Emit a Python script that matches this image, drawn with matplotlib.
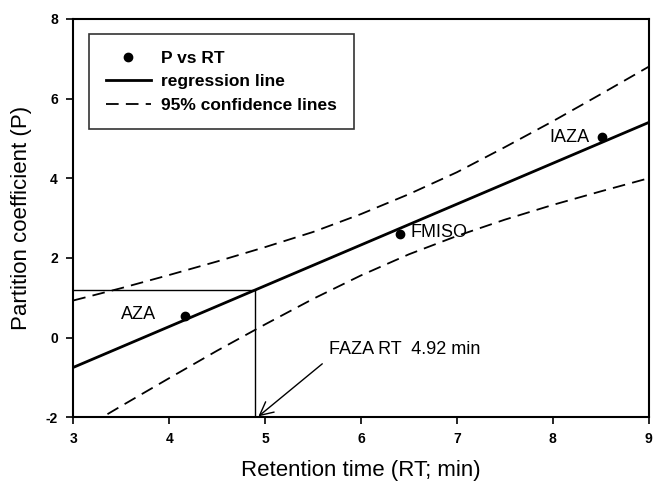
import numpy as np
import matplotlib
matplotlib.use("Agg")
import matplotlib.pyplot as plt

plt.rcParams['font.family'] = ['Liberation Sans', 'DejaVu Sans']
plt.rcParams['axes.unicode_minus'] = False

# measured compounds: retention time vs partition coefficient
compounds = ["AZA", "FMISO", "IAZA"]
rt = [4.16, 6.41, 8.51]
p_coef = [0.53, 2.61, 5.04]

# regression line end points
reg_x = [3.0, 9.0]
reg_y = [-0.75, 5.40]

# 95% confidence lines
ci_x = [3.0, 3.5, 4.0, 4.5, 5.0, 5.5, 6.0, 6.5, 7.0, 7.5, 8.0, 8.5, 9.0]
ci_upper = [0.93, 1.24, 1.57, 1.91, 2.27, 2.65, 3.10, 3.60, 4.15, 4.78, 5.43, 6.11, 6.80]
ci_lower = [-2.43, -1.72, -1.02, -0.33, 0.33, 0.97, 1.56, 2.09, 2.55, 2.96, 3.33, 3.67, 4.00]

# FAZA read-off
faza_rt = 4.9
faza_p = 1.19

fig = plt.figure(figsize=(6.54, 4.84), dpi=100)
ax = fig.add_axes([0.112, 0.138, 0.880, 0.823])

ax.plot(rt, p_coef, 'o', color='black', ms=6, label='P vs RT', zorder=5)
ax.plot(reg_x, reg_y, '-', color='black', lw=2.0, label='regression line')
ax.plot(ci_x, ci_upper, '--', color='black', lw=1.3, dashes=(7, 4),
        label='95% confidence lines')
ax.plot(ci_x, ci_lower, '--', color='black', lw=1.3, dashes=(7, 4))

# guide lines for FAZA
ax.plot([3.0, faza_rt], [faza_p, faza_p], '-', color='black', lw=1.0)
ax.plot([faza_rt, faza_rt], [faza_p, -2.0], '-', color='black', lw=1.0)

ax.text(3.5, 0.58, "AZA", fontsize=13, va='center', ha='left')
ax.text(6.52, 2.64, "FMISO", fontsize=13, va='center', ha='left')
ax.text(8.38, 5.03, "IAZA", fontsize=13, va='center', ha='right')
ax.annotate("FAZA RT  4.92 min", xy=(faza_rt + 0.03, -1.98), xytext=(5.67, -0.3),
            fontsize=13, va='center', ha='left',
            arrowprops=dict(arrowstyle='->', color='black', lw=1.0,
                            mutation_scale=24, shrinkA=4, shrinkB=0,
                            relpos=(0.0, 0.0)))

ax.set_xlim(3, 9)
ax.set_ylim(-2, 8)
ax.set_xticks(range(3, 10))
ax.set_yticks(range(-2, 9, 2))
ax.tick_params(direction='out', length=5, width=1.2, labelsize=10, pad=6)
for lab in ax.get_xticklabels() + ax.get_yticklabels():
    lab.set_fontweight('bold')
for sp in ax.spines.values():
    sp.set_linewidth(1.5)

ax.set_xlabel("Retention time (RT; min)", fontsize=16, labelpad=10)
ax.set_ylabel("Partition coefficient (P)", fontsize=16, labelpad=10)

leg = ax.legend(loc='upper left', bbox_to_anchor=(0.028, 0.962),
                prop={'weight': 'bold', 'size': 12.5},
                frameon=True, fancybox=False, edgecolor='black',
                borderpad=0.95, handlelength=2.6, handletextpad=0.6,
                labelspacing=0.48, borderaxespad=0)
leg.get_frame().set_linewidth(1.2)

fig.savefig("out.png", dpi=100)
